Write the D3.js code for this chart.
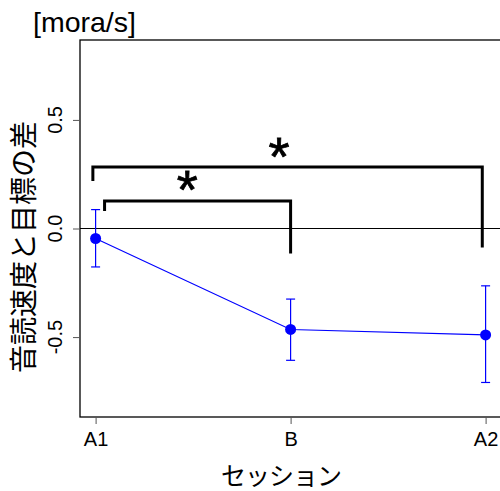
<!DOCTYPE html>
<html>
<head>
<meta charset="utf-8">
<script src="https://cdn.jsdelivr.net/npm/d3@7"></script>
<style>
  body { margin: 0; background: #fff; }
  text { font-family: "Liberation Sans", Arial, sans-serif; }
  .jp { font-family: "Noto Sans CJK JP", sans-serif; }
</style>
</head>
<body>
<div id="chart"></div>
<script>
// data
const sessions = ["A1", "B", "A2"];
const sessionX = [1, 2, 3];
const means = [-0.046, -0.465, -0.49];
const upper = [0.087, -0.325, -0.264];
const lower = [-0.177, -0.607, -0.709];
const yTicks = [-0.5, 0.0, 0.5];
const yTickLabels = ["-0.5", "0.0", "0.5"];

// significance brackets: [x left, x right, top, left foot, right foot]
const bracketOuter = [0.986, 2.983, 0.283, 0.219, -0.087];
const bracketInner = [1.046, 2.0, 0.127, 0.081, -0.115];
const starX = [1.94, 1.47];
const starY = [0.39, 0.235];

const W = 500, H = 491;
let margin = { left: 80, top: 40, bottom: 74 }
let plotBottom = H - margin.bottom;

let svg = d3.select("#chart").append("svg")
  .attr("width", W)
  .attr("height", H);

let x = d3.scaleLinear().domain([0.92, 3.08]).range([margin.left, 501.2]);
let y = d3.scaleLinear().domain([-0.868, 0.868]).range([plotBottom, margin.top]);

// box
svg.append("rect")
  .attr("x", x(0.92)).attr("y", y(0.868))
  .attr("width", x(3.08) - x(0.92)).attr("height", y(-0.868) - y(0.868))
  .attr("fill", "none").attr("stroke", "#000").attr("stroke-width", 1.3);

// x axis
let xAxis = svg.append("g")
  .attr("transform", `translate(0,${plotBottom})`)
  .call(d3.axisBottom(x).tickValues(sessionX).tickSize(7).tickPadding(8)
    .tickFormat((d, i) => sessions[i]));
xAxis.select(".domain").remove();
xAxis.selectAll("line").attr("stroke", "#555");
xAxis.selectAll("text").attr("font-size", 20).attr("fill", "#000")
  .attr("font-family", "Liberation Sans, Arial, sans-serif");

// y axis
let yAxis = svg.append("g")
  .attr("transform", `translate(${margin.left},0)`)
  .call(d3.axisLeft(y).tickValues(yTicks).tickSize(7).tickFormat(""));
yAxis.select(".domain").remove();
yAxis.selectAll("line").attr("stroke", "#555");

svg.selectAll(".ytick")
  .data(yTicks)
  .enter().append("text")
  .attr("class", "ytick")
  .attr("transform", d => `translate(62,${y(d)}) rotate(-90)`)
  .attr("text-anchor", "middle")
  .attr("font-size", 20)
  .text((d, i) => yTickLabels[i]);

// zero line
svg.append("line")
  .attr("x1", x(0.92)).attr("x2", x(3.08))
  .attr("y1", y(0)).attr("y2", y(0))
  .attr("stroke", "#000").attr("stroke-width", 1);

// brackets
[bracketOuter, bracketInner].forEach(b => {
  svg.append("path")
    .attr("d", d3.line()([
      [x(b[0]), y(b[3])], [x(b[0]), y(b[2])],
      [x(b[1]), y(b[2])], [x(b[1]), y(b[4])]
    ]))
    .attr("fill", "none")
    .attr("stroke", "#000")
    .attr("stroke-width", 3);
});

// stars
const starSize = 54;
starX.forEach((sx, i) => {
  svg.append("text")
    .attr("x", x(sx))
    .attr("y", y(starY[i]) + 0.57 * starSize)
    .attr("text-anchor", "middle")
    .attr("font-size", starSize)
    .attr("stroke", "#000")
    .attr("stroke-width", 0.8)
    .text("*");
});

// error bars
sessionX.forEach((sx, i) => {
  let g = svg.append("g").attr("stroke", "#0000ff").attr("stroke-width", 1.2);
  g.append("line").attr("x1", x(sx)).attr("x2", x(sx))
    .attr("y1", y(upper[i])).attr("y2", y(lower[i]));
  g.append("line").attr("x1", x(sx) - 4.5).attr("x2", x(sx) + 4.5)
    .attr("y1", y(upper[i])).attr("y2", y(upper[i]));
  g.append("line").attr("x1", x(sx) - 4.5).attr("x2", x(sx) + 4.5)
    .attr("y1", y(lower[i])).attr("y2", y(lower[i]));
});

// mean line and points
svg.append("path")
  .datum(sessionX)
  .attr("fill", "none")
  .attr("stroke", "#0000ff")
  .attr("stroke-width", 1.2)
  .attr("d", d3.line().x(d => x(d)).y((d, i) => y(means[i])));

svg.selectAll(".pt")
  .data(sessionX)
  .enter().append("circle")
  .attr("class", "pt")
  .attr("cx", d => x(d))
  .attr("cy", (d, i) => y(means[i]))
  .attr("r", 5.5)
  .attr("fill", "#0000ff");

// titles
svg.append("text")
  .attr("x", 33).attr("y", 32)
  .attr("font-size", 28.5)
  .text("[mora/s]");

svg.append("text")
  .attr("class", "jp")
  .attr("x", 281).attr("y", 474)
  .attr("text-anchor", "middle")
  .attr("dominant-baseline", "central")
  .attr("font-size", 25)
  .attr("letter-spacing", -1)
  .text("セッション");

svg.append("text")
  .attr("class", "jp")
  .attr("transform", `translate(22,247) rotate(-90)`)
  .attr("text-anchor", "middle")
  .attr("dominant-baseline", "central")
  .attr("font-size", 28)
  .text("音読速度と目標の差");
</script>
</body>
</html>
